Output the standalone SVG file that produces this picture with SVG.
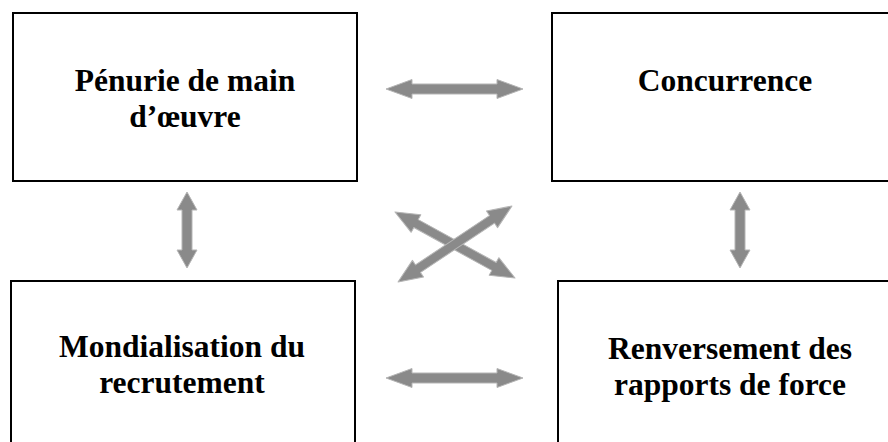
<svg xmlns="http://www.w3.org/2000/svg" width="888" height="442" viewBox="0 0 888 442">
<style>
.box{fill:#fff;stroke:#000;stroke-width:2}
.lbl{font-family:"Liberation Serif","Times New Roman",serif;font-weight:bold;font-size:31.5px;text-anchor:middle;fill:#000}
.arr{fill:#8a8a8a;stroke:#b5b5b5;stroke-width:1;stroke-linejoin:round}
</style>
<rect width="888" height="442" fill="#fff"/>
<g id="n1"><rect class="box" x="13" y="13" width="344" height="168"/>
<text class="lbl" x="185" y="91">Pénurie de main</text><text class="lbl" x="185" y="127">d’œuvre</text></g>
<g id="n2"><rect class="box" x="552" y="13" width="360" height="168"/>
<text class="lbl" x="725" y="91">Concurrence</text></g>
<g id="n3"><rect class="box" x="11" y="281" width="344" height="180"/>
<text class="lbl" x="182" y="357">Mondialisation du</text><text class="lbl" x="182" y="393">recrutement</text></g>
<g id="n4"><rect class="box" x="558" y="281" width="360" height="180"/>
<text class="lbl" x="730" y="359">Renversement des</text><text class="lbl" x="730" y="395">rapports de force</text></g>
<g id="connectors">
<polygon class="arr" transform="translate(454.5,89)" points="-68.5,0 -42.5,-9.5 -42.5,-5 42.5,-5 42.5,-9.5 68.5,0 42.5,9.5 42.5,5 -42.5,5 -42.5,9.5"/>
<polygon class="arr" transform="translate(454.5,378)" points="-68.5,0 -42.5,-9.5 -42.5,-5 42.5,-5 42.5,-9.5 68.5,0 42.5,9.5 42.5,5 -42.5,5 -42.5,9.5"/>
<polygon class="arr" transform="translate(187,230) rotate(90)" points="-38,0 -20,-10 -20,-5 20,-5 20,-10 38,0 20,10 20,5 -20,5 -20,10"/>
<polygon class="arr" transform="translate(740,230) rotate(90)" points="-38,0 -20,-10 -20,-5 20,-5 20,-10 38,0 20,10 20,5 -20,5 -20,10"/>
<polygon class="arr" transform="translate(455,245) rotate(28.8)" points="-68.5,0 -44.5,-10 -44.5,-4.5 44.5,-4.5 44.5,-10 68.5,0 44.5,10 44.5,4.5 -44.5,4.5 -44.5,10"/>
<polygon class="arr" transform="translate(455,244) rotate(-33.7)" points="-68.5,0 -44.5,-10 -44.5,-4.5 44.5,-4.5 44.5,-10 68.5,0 44.5,10 44.5,4.5 -44.5,4.5 -44.5,10"/>
</g>
</svg>
